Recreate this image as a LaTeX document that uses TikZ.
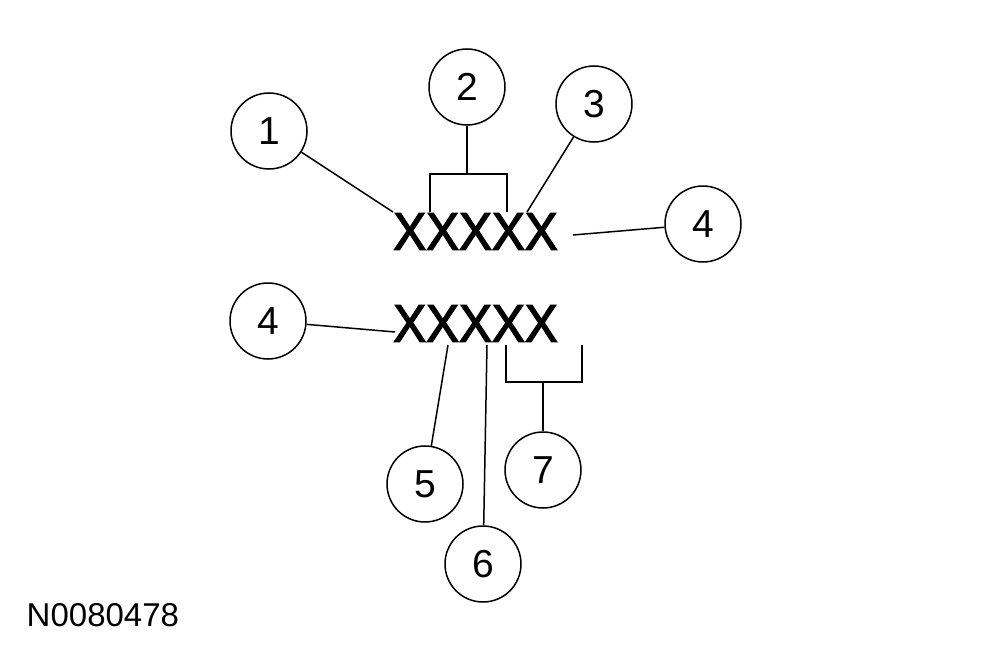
\documentclass[tikz,border=0pt]{standalone}
\usepackage{fontspec}
\setmainfont{Liberation Sans}
\newfontfamily\xfont[FakeStretch=0.93,FakeBold=2.5]{Liberation Sans}
\begin{document}
\begin{tikzpicture}[x=1pt,y=-1pt,line width=1.5pt,
    callout/.style={circle,draw,minimum size=76pt,inner sep=0pt,font=\fontsize{39}{39}\selectfont},
    code/.style={inner sep=0pt,font=\xfont\fontsize{53}{53}\selectfont}]
\useasboundingbox (0,0) rectangle (1005,653);
\node [code] (top) at (475.5,231.5) {XXXXX};
\node [code] (bot) at (475.5,323.5) {XXXXX};
\node [callout] (c1) at (269,131) {1};
\node [callout] (c2) at (467,87) {2};
\node [callout] (c3) at (594,104) {3};
\node [callout] (c4a) at (703,224) {4};
\node [callout] (c4b) at (268,321) {4};
\node [callout] (c5) at (425,484) {5};
\node [callout] (c6) at (483,564) {6};
\node [callout] (c7) at (543,470) {7};
\node [anchor=west,inner sep=0pt,font=\fontsize{33}{33}\selectfont] (ref) at (26,615) {N0080478};
\coordinate (t1) at (393,212);
\coordinate (b2l) at (430,212);
\coordinate (b2r) at (507,212);
\coordinate (b2m) at (467,174);
\coordinate (t3) at (527,212);
\coordinate (t4) at (573,235);
\coordinate (u4) at (395,332);
\coordinate (u5) at (448,345);
\coordinate (u6) at (487,345);
\coordinate (b7l) at (506,345);
\coordinate (b7r) at (582,345);
\coordinate (b7m) at (543,382);
\draw (c1) -- (t1);
\draw (b2l) |- (b2m) -| (b2r);
\draw (c2) -- (b2m);
\draw (c3) -- (t3);
\draw (c4a) -- (t4);
\draw (c4b) -- (u4);
\draw (c5) -- (u5);
\draw (c6) -- (u6);
\draw (b7l) |- (b7m) -| (b7r);
\draw (c7) -- (b7m);
\end{tikzpicture}
\end{document}
